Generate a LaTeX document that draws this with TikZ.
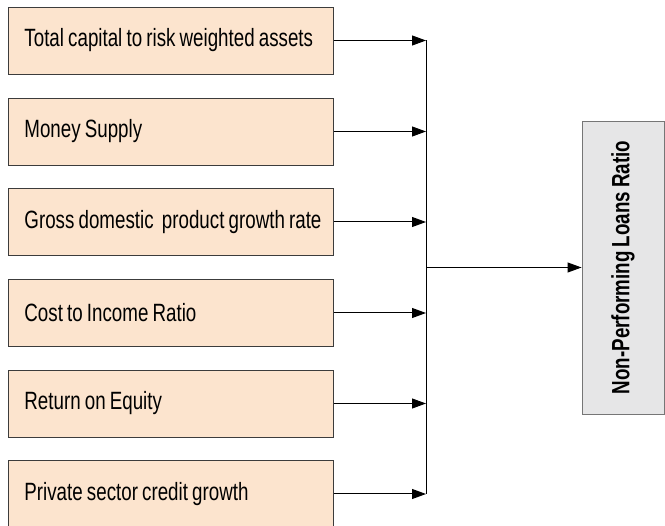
\documentclass[tikz,border=0pt]{standalone}
\usepackage{fontspec}
\setmainfont{Liberation Sans}[FakeStretch=0.75,WordSpace=0.8]
\usetikzlibrary{arrows.meta}
\definecolor{peach}{RGB}{252,228,206}
\definecolor{lgray}{RGB}{230,230,231}
\definecolor{bord}{RGB}{60,60,60}
\newcommand{\boxtext}[1]{\makebox[293pt][l]{#1}}
\begin{document}
\begin{tikzpicture}[x=1pt,y=-1pt,
  factor/.style={draw=bord,line width=0.9pt,fill=peach,minimum width=325pt,minimum height=67pt,
    inner xsep=16pt,font=\fontsize{25}{28}\selectfont,anchor=west},
  target/.style={draw=bord!70,line width=0.9pt,fill=lgray,minimum width=293pt,minimum height=82pt,
    rotate=90,font=\fontsize{25}{28}\selectfont\bfseries},
  conn/.style={line width=1pt,black},
  arr/.style={conn,-{Triangle[length=14pt,width=10pt]}}]
\useasboundingbox (0,0) rectangle (665,526);
\node[factor] (f1) at (8,40.5) {\boxtext{Total capital to risk weighted assets}};
\node[factor] (f2) at (8,131.5) {\boxtext{Money Supply}};
\node[factor] (f3) at (8,222) {\boxtext{Gross domestic\, product growth rate}};
\node[factor] (f4) at (8,313) {\boxtext{Cost to Income Ratio}};
\node[factor] (f5) at (8,403.5) {\boxtext{Return on Equity}};
\node[factor] (f6) at (8,494) {\boxtext{Private sector credit growth}};
\node[target] (t) at (623,267.5) {Non-Performing Loans Ratio};
\coordinate (j1) at (426,40.5);
\coordinate (j2) at (426,131.5);
\coordinate (j3) at (426,222);
\coordinate (j4) at (426,313);
\coordinate (j5) at (426,403.5);
\coordinate (j6) at (426,494);
\coordinate (jm) at (426,267.5);
\foreach \i in {1,...,6} {\draw[arr] (f\i.east) -- (j\i);}
\draw[conn] (j1) -- (j6);
\draw[arr] (jm) -- (t.north);
\end{tikzpicture}
\end{document}
